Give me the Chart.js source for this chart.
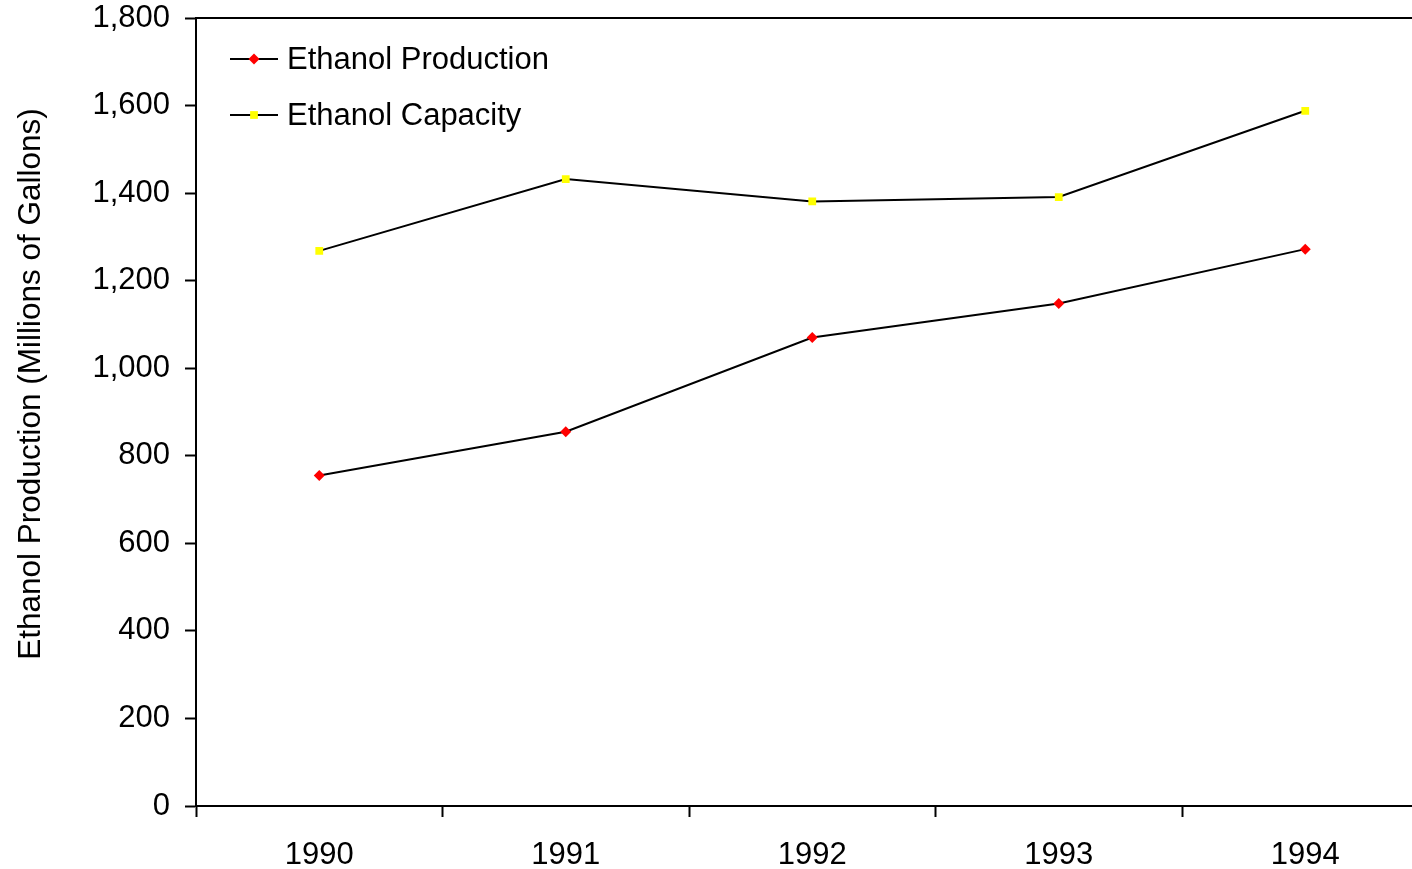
<!DOCTYPE html>
<html>
<head>
<meta charset="utf-8">
<title>Ethanol Production and Capacity</title>
<script src="https://cdn.jsdelivr.net/npm/chart.js@4.4.1/dist/chart.umd.min.js"></script>
<style>
    html, body { margin: 0; padding: 0; background: #ffffff; overflow: hidden; }
    #wrap { width: 1434px; height: 869px; }
</style>
</head>
<body>
<div id="wrap"><canvas id="myChart" width="1434" height="869"></canvas></div>
<script>
// data
const years = ['1990', '1991', '1992', '1993', '1994'];
const production = [755, 855, 1070, 1148, 1272];
const capacity = [1268, 1432, 1381, 1391, 1588];
const yMin = 0;
const yMax = 1800;
const yStep = 200;
const yTitle = 'Ethanol Production (Millions of Gallons)';

const fontFamily = '"Liberation Sans", Arial, sans-serif';

// top/right frame lines around the plot
const framePlugin = {
    id: 'frame',
    afterDraw(chart) {
        const { ctx, chartArea } = chart;
        ctx.save();
        ctx.strokeStyle = '#000';
        ctx.lineWidth = 2;
        ctx.beginPath();
        ctx.moveTo(chartArea.left, chartArea.top);
        ctx.lineTo(chartArea.right, chartArea.top);
        ctx.lineTo(chartArea.right, chartArea.bottom);
        ctx.stroke();
        ctx.restore();
    }
};

// y axis title, sits a bit above the middle of the axis
const yTitlePlugin = {
    id: 'yTitle',
    afterDraw(chart) {
        const { ctx, chartArea } = chart;
        const cy = (chartArea.top + chartArea.bottom) / 2 - 28;
        ctx.save();
        ctx.translate(31, cy);
        ctx.rotate(-Math.PI / 2);
        ctx.fillStyle = '#000';
        ctx.font = '31.5px ' + fontFamily;
        ctx.textAlign = 'center';
        ctx.textBaseline = 'middle';
        ctx.fillText(yTitle, 0, 0);
        ctx.restore();
    }
};

// legend box in the upper-left corner of the plot
const insideLegend = {
    id: 'insideLegend',
    afterDraw(chart) {
        const { ctx, chartArea } = chart;
        const x0 = chartArea.left + 34;
        const rows = [chartArea.top + 41, chartArea.top + 97];
        ctx.save();
        chart.data.datasets.forEach((ds, i) => {
            const y = rows[i];
            ctx.strokeStyle = ds.borderColor;
            ctx.lineWidth = 2;
            ctx.beginPath();
            ctx.moveTo(x0, y);
            ctx.lineTo(x0 + 48, y);
            ctx.stroke();
            ctx.fillStyle = ds.pointBackgroundColor;
            ctx.beginPath();
            if (ds.pointStyle === 'rectRot') {
                const r = ds.pointRadius;
                ctx.moveTo(x0 + 24 - r, y);
                ctx.lineTo(x0 + 24, y - r);
                ctx.lineTo(x0 + 24 + r, y);
                ctx.lineTo(x0 + 24, y + r);
                ctx.closePath();
            } else {
                const s = ds.pointRadius * Math.SQRT1_2;
                ctx.rect(x0 + 24 - s, y - s, 2 * s, 2 * s);
            }
            ctx.fill();
            ctx.fillStyle = '#000';
            ctx.font = '31px ' + fontFamily;
            ctx.textBaseline = 'middle';
            ctx.textAlign = 'left';
            ctx.fillText(ds.label, x0 + 57, y + 1);
        });
        ctx.restore();
    }
};

var ctx = document.getElementById('myChart');
var chart = new Chart(ctx, {
    type: 'line',
    data: {
        labels: years,
        datasets: [
            {
                label: 'Ethanol Production',
                data: production,
                borderColor: '#000000',
                borderWidth: 2,
                tension: 0,
                fill: false,
                pointStyle: 'rectRot',
                pointRadius: 5.5,
                pointBackgroundColor: '#ff0000',
                pointBorderColor: '#ff0000',
                pointBorderWidth: 0
            },
            {
                label: 'Ethanol Capacity',
                data: capacity,
                borderColor: '#000000',
                borderWidth: 2,
                tension: 0,
                fill: false,
                pointStyle: 'rect',
                pointRadius: 5.5,
                pointBackgroundColor: '#ffff00',
                pointBorderColor: '#ffff00',
                pointBorderWidth: 0
            }
        ]
    },
    options: {
        responsive: false,
        animation: false,
        layout: { padding: { top: 18, right: 3, left: 0, bottom: 0 } },
        scales: {
            x: {
                offset: true,
                grid: {
                    offset: true,
                    drawOnChartArea: false,
                    drawTicks: true,
                    tickLength: 11,
                    tickWidth: 2,
                    tickColor: '#000'
                },
                border: { display: true, color: '#000', width: 2 },
                ticks: {
                    color: '#000',
                    padding: 23,
                    maxRotation: 0,
                    font: { family: fontFamily, size: 31, lineHeight: 1 }
                },
                afterFit(scale) { scale.height = 63; }
            },
            y: {
                min: yMin,
                max: yMax,
                grid: {
                    drawOnChartArea: false,
                    drawTicks: true,
                    tickLength: 11,
                    tickWidth: 2,
                    tickColor: '#000'
                },
                border: { display: true, color: '#000', width: 2 },
                ticks: {
                    stepSize: yStep,
                    color: '#000',
                    padding: 15,
                    font: { family: fontFamily, size: 31, lineHeight: 1 },
                    callback: (v) => v.toLocaleString('en-US')
                },
                afterFit(scale) {
                    scale.width = 196;
                    scale.paddingTop = 0;
                    scale.paddingBottom = 0;
                }
            }
        },
        plugins: {
            legend: { display: false },
            tooltip: { enabled: false }
        }
    },
    plugins: [framePlugin, yTitlePlugin, insideLegend]
});
</script>
</body>
</html>
